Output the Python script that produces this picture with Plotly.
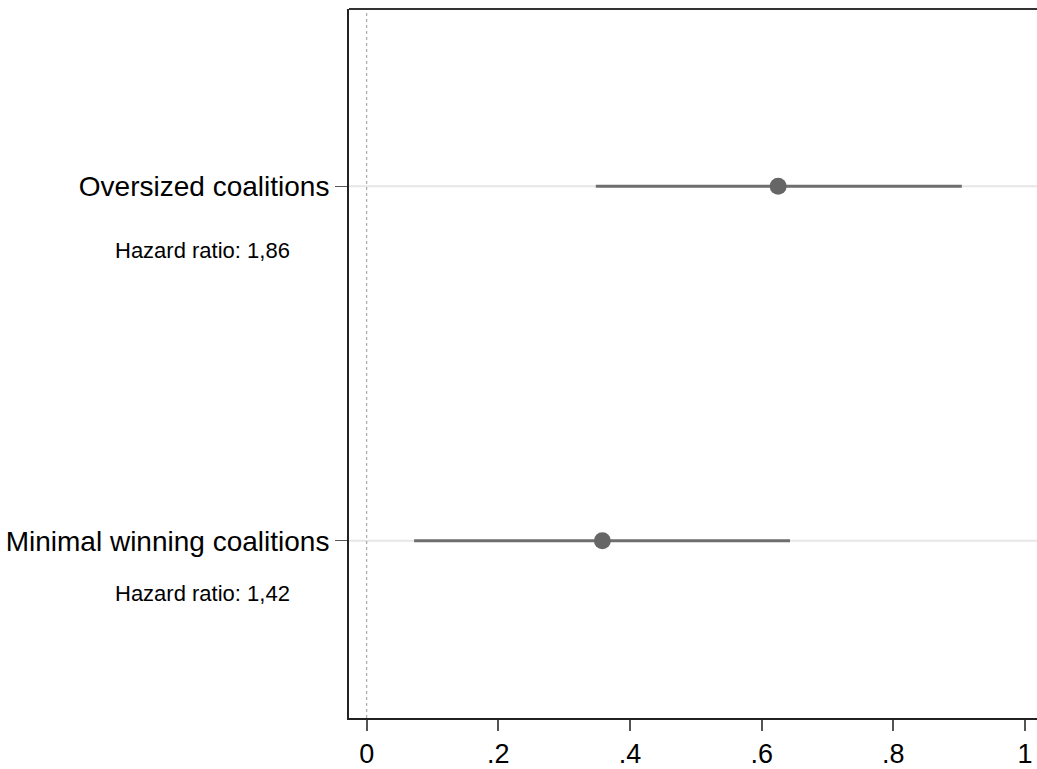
import plotly.graph_objects as go

categories = ["Minimal winning coalitions", "Oversized coalitions"]
estimates = [0.358, 0.625]
ci_low = [0.072, 0.348]
ci_high = [0.643, 0.904]
hazard_labels = ["Hazard ratio: 1,42", "Hazard ratio: 1,86"]
hazard_offsets = [0.148, 0.18]
tick_vals = [0, 0.2, 0.4, 0.6, 0.8, 1]
tick_text = ["0", ".2", ".4", ".6", ".8", "1"]

ypos = [1, 2]

fig = go.Figure()
fig.add_trace(go.Scatter(
    x=estimates, y=ypos, mode="markers",
    marker=dict(color="#666666", size=17),
    error_x=dict(type="data", symmetric=False,
                 array=[h - e for h, e in zip(ci_high, estimates)],
                 arrayminus=[e - l for e, l in zip(estimates, ci_low)],
                 color="#6e6e6e", thickness=3, width=0),
    showlegend=False, hoverinfo="skip",
))

shapes = []
for y in ypos:
    shapes.append(dict(type="line", xref="paper", yref="y", x0=0, x1=1, y0=y, y1=y,
                       line=dict(color="#e6e6e6", width=2), layer="below"))
shapes.append(dict(type="line", xref="x", yref="paper", x0=0, x1=0, y0=0, y1=1,
                   line=dict(color="#9a9a9a", width=1, dash="dot"), layer="below"))
shapes.append(dict(type="line", xref="paper", yref="paper", x0=0, x1=1, y0=1, y1=1,
                   line=dict(color="#333333", width=2)))

annotations = []
for y, t, off in zip(ypos, hazard_labels, hazard_offsets):
    annotations.append(dict(x=-0.213, y=y - off, xref="paper", yref="y", text=t,
                            showarrow=False, xanchor="center", yanchor="middle",
                            font=dict(size=22, color="black")))

fig.update_layout(
    width=1037, height=769,
    margin=dict(l=349, r=0, t=9, b=49),
    paper_bgcolor="white", plot_bgcolor="white",
    font=dict(family="Liberation Sans, Arial, sans-serif", color="black"),
    shapes=shapes, annotations=annotations,
    xaxis=dict(range=[-0.0269, 1.0182], tickvals=tick_vals, ticktext=tick_text,
               showgrid=False, zeroline=False, showline=True, linecolor="#222222",
               linewidth=2, ticks="outside", ticklen=11, tickwidth=2, tickcolor="#555555",
               tickfont=dict(size=27)),
    yaxis=dict(range=[0.5, 2.5], tickvals=ypos, ticktext=categories,
               showgrid=False, zeroline=False, showline=True, linecolor="#222222",
               linewidth=2, ticks="outside", ticklen=12, tickwidth=1, tickcolor="#555555",
               tickfont=dict(size=28)),
)

fig.write_html("out.html")
